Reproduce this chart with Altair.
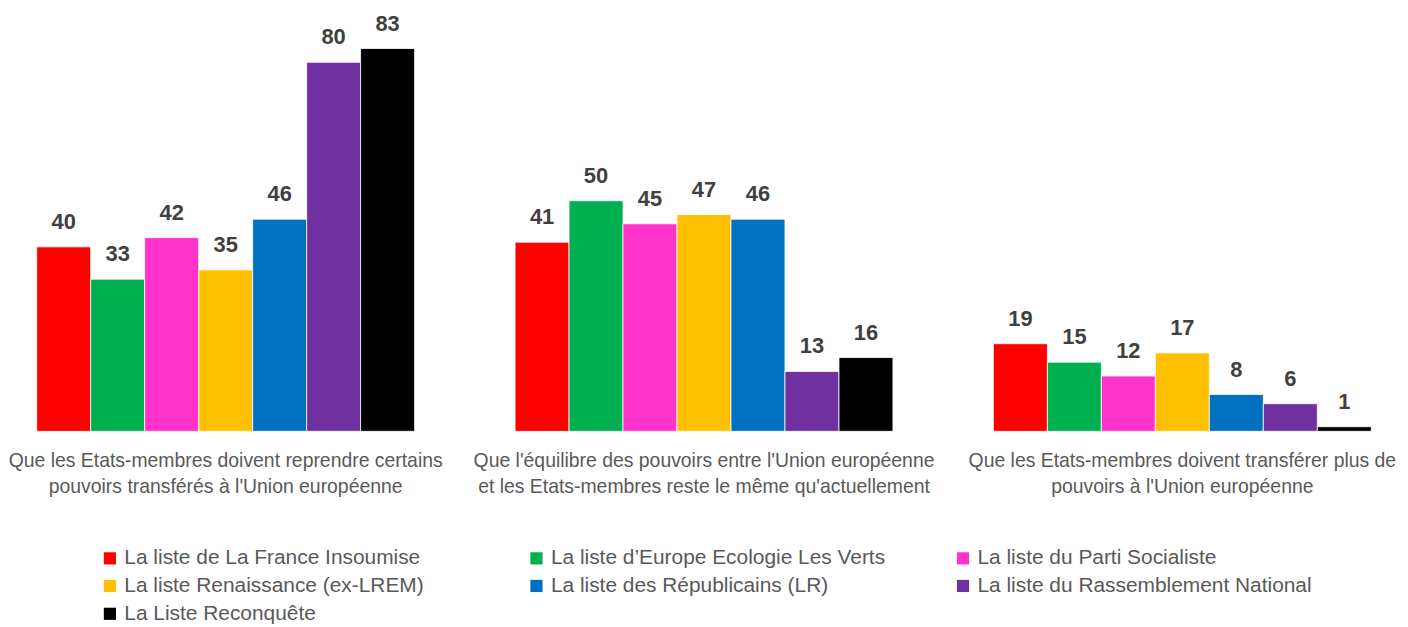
import altair as alt
import pandas as pd

questions = [
    "Que les Etats-membres doivent reprendre certains|pouvoirs transférés à l'Union européenne",
    "Que l'équilibre des pouvoirs entre l'Union européenne|et les Etats-membres reste le même qu'actuellement",
    "Que les Etats-membres doivent transférer plus de|pouvoirs à l'Union européenne",
]
parties = [
    "La liste de La France Insoumise",
    "La liste d’Europe Ecologie Les Verts",
    "La liste du Parti Socialiste",
    "La liste Renaissance (ex-LREM)",
    "La liste des Républicains (LR)",
    "La liste du Rassemblement National",
    "La Liste Reconquête",
]
colors = ["#FF0000", "#00B050", "#FF33CC", "#FFC000", "#0070C0", "#7030A0", "#000000"]
values_q1 = [40, 33, 42, 35, 46, 80, 83]
values_q2 = [41, 50, 45, 47, 46, 13, 16]
values_q3 = [19, 15, 12, 17, 8, 6, 1]

rows = []
for q, vals in zip(questions, [values_q1, values_q2, values_q3]):
    for p, v in zip(parties, vals):
        rows.append({"question": q, "party": p, "value": v})
df = pd.DataFrame(rows)

x = alt.X("question:N", sort=questions,
          scale=alt.Scale(paddingInner=0.21, paddingOuter=0.06),
          axis=alt.Axis(title=None, labelAngle=0, domain=False, ticks=False,
                        labelExpr="split(datum.label, '|')",
                        labelFont="Liberation Sans", labelFontSize=19.5,
                        labelColor="#595959", labelPadding=20, labelLineHeight=27,
                        labelLimit=600))
xo = alt.XOffset("party:N", sort=parties, scale=alt.Scale(paddingInner=0, paddingOuter=0))
y = alt.Y("value:Q", scale=alt.Scale(domain=[0, 91.4], nice=False, zero=True), axis=None)

base = alt.Chart(df).encode(x=x, xOffset=xo, y=y)

bars = base.mark_bar(stroke="white", strokeWidth=0.8).encode(
    color=alt.Color("party:N", sort=parties,
                    scale=alt.Scale(domain=parties, range=colors),
                    legend=alt.Legend(title=None, orient="none", legendX=92, legendY=541,
                                      direction="horizontal",
                                      columns=3, gridAlign="all", columnPadding=67,
                                      rowPadding=6, symbolType="square", symbolSize=150,
                                      symbolStrokeWidth=0, labelFont="Liberation Sans",
                                      labelFontSize=21, labelColor="#595959",
                                      labelLimit=500, padding=0, symbolOffset=0,
                                      labelOffset=4))
)
labels = base.mark_text(dy=-18, baseline="alphabetic", font="Liberation Sans",
                        fontSize=22, fontWeight="bold", color="#404040").encode(
    text="value:Q")

chart = alt.layer(bars, labels).properties(
    width=1400, height=424, padding=0
).configure_view(stroke=None)

chart.save("out.html", embed_options={"renderer": "svg", "actions": False})
